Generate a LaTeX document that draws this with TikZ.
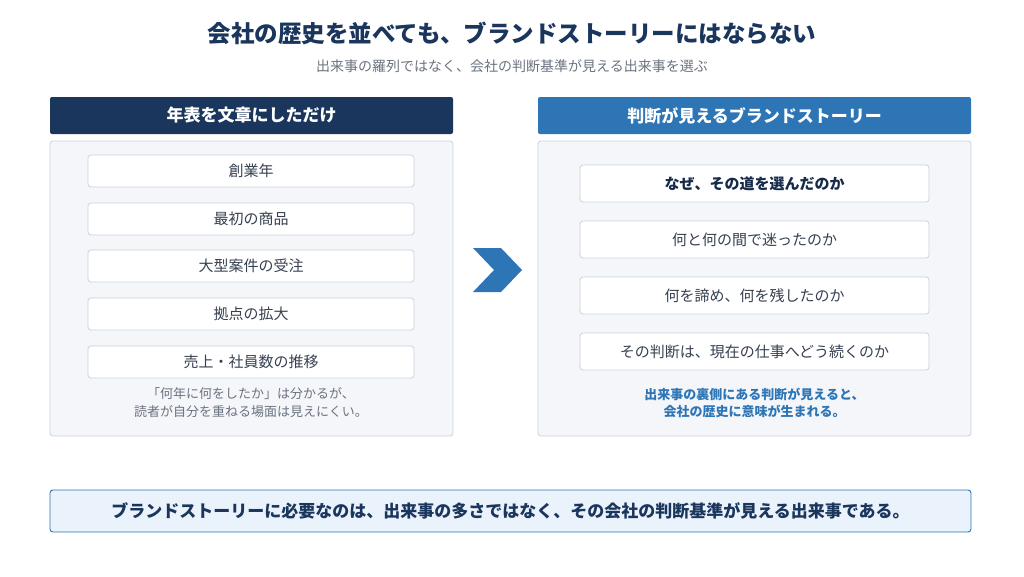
\documentclass[tikz,border=0pt]{standalone}
\usepackage{fontspec}
\setmainfont{Noto Sans CJK JP}
\definecolor{navy}{HTML}{1B365D}
\definecolor{blu}{HTML}{2E75B6}
\definecolor{pan}{HTML}{F4F6FA}
\definecolor{bord}{HTML}{C8D3E0}
\definecolor{gry}{HTML}{6B7280}
\definecolor{txt}{HTML}{374151}
\definecolor{lite}{HTML}{EAF2FB}
\begin{document}
\begin{tikzpicture}[x=1pt,y=-1pt,
 hdr/.style={rounded corners=2pt,text=white,font=\fontsize{17}{20}\selectfont\bfseries},
 panel/.style={draw=bord,fill=pan,rounded corners=3pt,line width=0.8pt},
 item/.style={draw=bord,fill=white,rounded corners=3pt,line width=0.8pt},
 itxt/.style={text=txt,font=\fontsize{15}{18}\selectfont},
 note/.style={align=center,font=\fontsize{13}{18}\selectfont}]
\useasboundingbox (0,0) rectangle (1024,576);
\node (title) at (512,33) [text=navy,font=\fontsize{23.5}{28}\selectfont\bfseries] {会社の歴史を並べても、ブランドストーリーにはならない};
\node (sub) at (512,66) [text=gry,font=\fontsize{14}{16}\selectfont] {出来事の羅列ではなく、会社の判断基準が見える出来事を選ぶ};
% left
\draw[panel] (50,141) rectangle (453,436);
\fill[navy,rounded corners=2pt] (50,97) rectangle (453,134);
\node (lh) at (251.5,115.5) [hdr] {年表を文章にしただけ};
\foreach \y/\t/\n in {171/創業年/l1,219/最初の商品/l2,266/大型案件の受注/l3,314/拠点の拡大/l4,362/売上・社員数の推移/l5}{
 \draw[item] (88,\y-16) rectangle (414,\y+16);
 \node (\n) at (251,\y) [itxt] {\t};}
\node (ln) at (251,403) [note,text=gry] {「何年に何をしたか」は分かるが、\\読者が自分を重ねる場面は見えにくい。};
% arrow
\fill[blu] (473,248) -- (501,248) -- (522,270) -- (501,292) -- (473,292) -- (494,270) -- cycle;
% right
\draw[panel] (538,141) rectangle (971,436);
\fill[blu,rounded corners=2pt] (538,97) rectangle (971,134);
\node (rh) at (754.5,115.5) [hdr] {判断が見えるブランドストーリー};
\foreach \y/\t/\n in {239.5/何と何の間で迷ったのか/r2,295.5/何を諦め、何を残したのか/r3,351.5/その判断は、現在の仕事へどう続くのか/r4}{
 \draw[item] (580,\y-18.5) rectangle (929,\y+18.5);
 \node (\n) at (754.5,\y) [itxt] {\t};}
\draw[item] (580,165) rectangle (929,202);
\node (r1) at (754.5,183.5) [text=navy!80!black,font=\fontsize{15}{18}\selectfont\bfseries] {なぜ、その道を選んだのか};
\node (rn) at (754.5,402.5) [note,text=blu,font=\fontsize{13}{17}\selectfont\bfseries] {出来事の裏側にある判断が見えると、\\会社の歴史に意味が生まれる。};
% bottom
\draw[draw=blu,fill=lite,rounded corners=3pt,line width=0.9pt] (50,490) rectangle (971,532);
\node (bt) at (510.5,511) [text=navy,font=\fontsize{17}{20}\selectfont\bfseries] {ブランドストーリーに必要なのは、出来事の多さではなく、その会社の判断基準が見える出来事である。};
\end{tikzpicture}
\end{document}
